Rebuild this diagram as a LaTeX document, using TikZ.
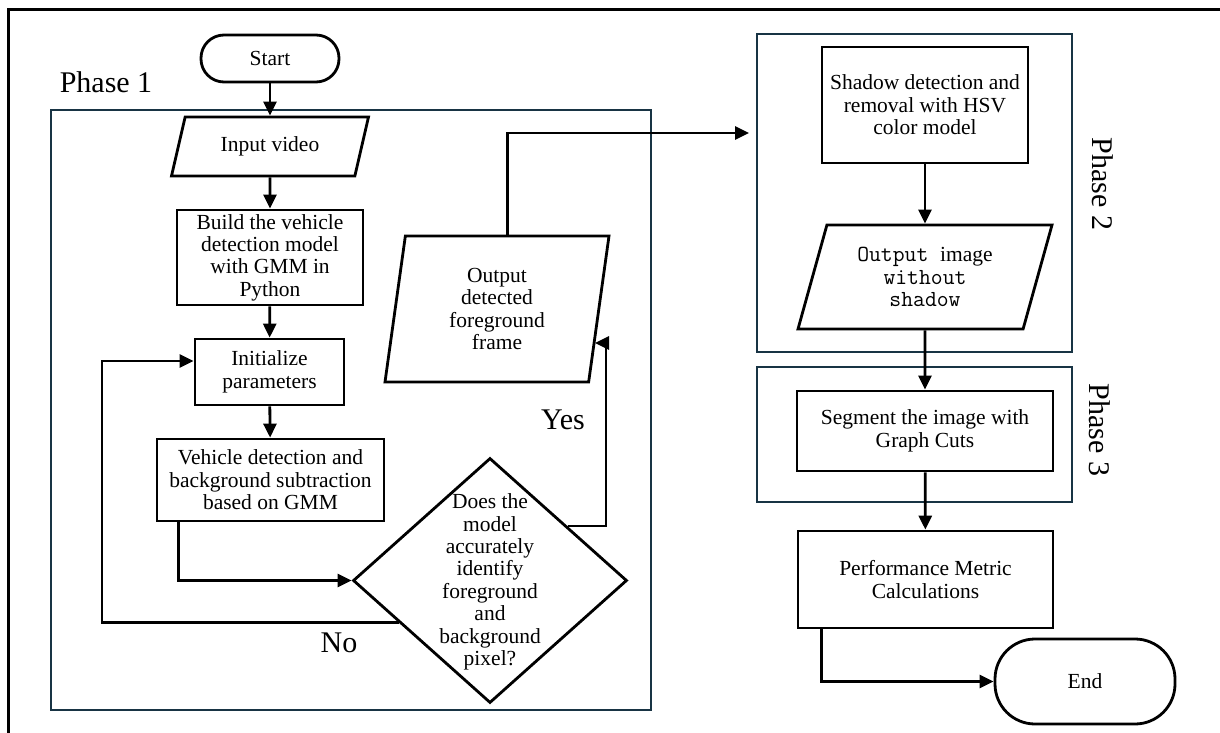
\documentclass[tikz,border=0pt]{standalone}
\usepackage{fontspec}
\setmainfont{Liberation Serif}
\usetikzlibrary{shapes.geometric,arrows.meta,calc}
\definecolor{phaseframe}{RGB}{24,52,68}
\newcommand{\boxtext}{\fontsize{21.5}{22.4}\selectfont}
\newcommand{\codetext}{\ttfamily\fontsize{23}{22.4}\selectfont}
\newcommand{\phasetext}{\fontsize{30}{32}\selectfont}

\begin{document}
\begin{tikzpicture}[x=1pt,y=-1pt]
		\tikzstyle{terminal}=[draw,line width=2.8pt,rectangle,rounded corners=23pt,align=center,inner sep=0pt,font=\boxtext]
		\tikzstyle{process}=[draw,line width=2.8pt,rectangle,align=center,inner sep=0pt,font=\boxtext]
		\tikzstyle{io}=[draw,line width=2.8pt,trapezium,trapezium stretches body,align=center,inner sep=0pt,font=\boxtext]
		\tikzstyle{decision}=[draw,line width=2.8pt,diamond,inner sep=0pt]
		\tikzstyle{plain-text}=[align=center,inner sep=0pt,font=\boxtext]
		\tikzstyle{phase-frame}=[draw=phaseframe,line width=2.6pt]
		\tikzstyle{phase-label}=[inner sep=0pt,font=\phasetext]
		\tikzstyle{flow}=[-{Triangle[length=14pt,width=13pt]},line width=2.8pt]
		\useasboundingbox (0,0) rectangle (1220,733);
		% outer frame
		\draw [line width=3pt] (8,733) -- (8,10) -- (1220,10);
		% phase 1
		\draw [phase-frame] (51,110) rectangle (651,710);
		\node [phase-label] at (106,82) (phase1) {Phase 1};
		\node [terminal, minimum width=138pt, minimum height=47pt] at (270,58.5) (start) {Start};
		\node [io, trapezium left angle=55, trapezium right angle=125, minimum width=197pt, minimum height=59pt] at (270,146.5) (input) {Input video};
		\node [process, minimum width=186pt, minimum height=95pt] at (270,257.5) (build) {Build the vehicle\\detection model\\with GMM in\\Python};
		\node [process, minimum width=149pt, minimum height=66pt] at (269.5,372) (init) {Initialize\\parameters};
		\node [process, minimum width=227pt, minimum height=82pt] at (270.5,480) (veh) {Vehicle detection and\\background subtraction\\based on GMM};
		\node [decision, minimum width=274pt, minimum height=245pt] at (490,580.5) (dec) {};
		\node [plain-text] at (490,582) (dec-text) {Does the\\model\\accurately\\identify\\foreground\\and\\background\\pixel?};
		\node [io, trapezium left angle=76, trapezium right angle=104, minimum width=224pt, minimum height=146pt] at (497,309) (out1) {Output\\detected\\foreground\\frame};
		\node [phase-label] at (563,420) (yes) {Yes};
		\node [phase-label] at (339,643) (no) {No};
		\coordinate (no-turn) at (102,361);
		\coordinate (yes-turn) at (606,343);
		\coordinate (to-phase2) at (749,133);
		% phase 2
		\draw [phase-frame] (757,34) rectangle (1072,352);
		\node [phase-label, rotate=-90] at (1103,184) (phase2) {Phase 2};
		\node [process, minimum width=206pt, minimum height=116pt] at (925,105) (shadow) {Shadow detection and\\removal with HSV\\color model};
		\node [io, trapezium left angle=64, trapezium right angle=116, minimum width=254pt, minimum height=104pt] at (925,277) (out2) {{\codetext Output }image\\{\codetext without}\\{\codetext shadow}};
		% phase 3
		\draw [phase-frame] (757,367) rectangle (1072,502);
		\node [phase-label, rotate=-90] at (1100,430) (phase3) {Phase 3};
		\node [process, minimum width=256pt, minimum height=80pt] at (925,431) (seg) {Segment the image with\\Graph Cuts};
		\node [process, minimum width=255pt, minimum height=97pt] at (925.5,579.5) (perf) {Performance Metric\\Calculations};
		\node [terminal, rounded corners=40pt, minimum width=180pt, minimum height=85pt] at (1085,681.5) (end) {End};
		% flow
		\draw [flow] (start) -- (input);
		\draw [flow] (input) -- (build);
		\draw [flow] (build) -- (init);
		\draw [flow] (init) -- (veh);
		\draw [flow] ([xshift=23pt]veh.south west) |- (dec.west);
		\draw [flow] ($(dec.west)!0.34!(dec.south)$) -| (no-turn) -- ([yshift=11pt]init.west);
		\draw [flow] ($(dec.north)!0.56!(dec.east)$) -| (yes-turn) -- (out1.-21.6 |- yes-turn);
		\draw [flow] (out1.top side) |- (to-phase2);
		\draw [flow] (shadow) -- (out2);
		\draw [flow] (out2) -- (seg);
		\draw [flow] (seg) -- (perf);
		\draw [flow] ([xshift=25pt]perf.south west) |- (end.west);
	\end{tikzpicture}
\end{document}
